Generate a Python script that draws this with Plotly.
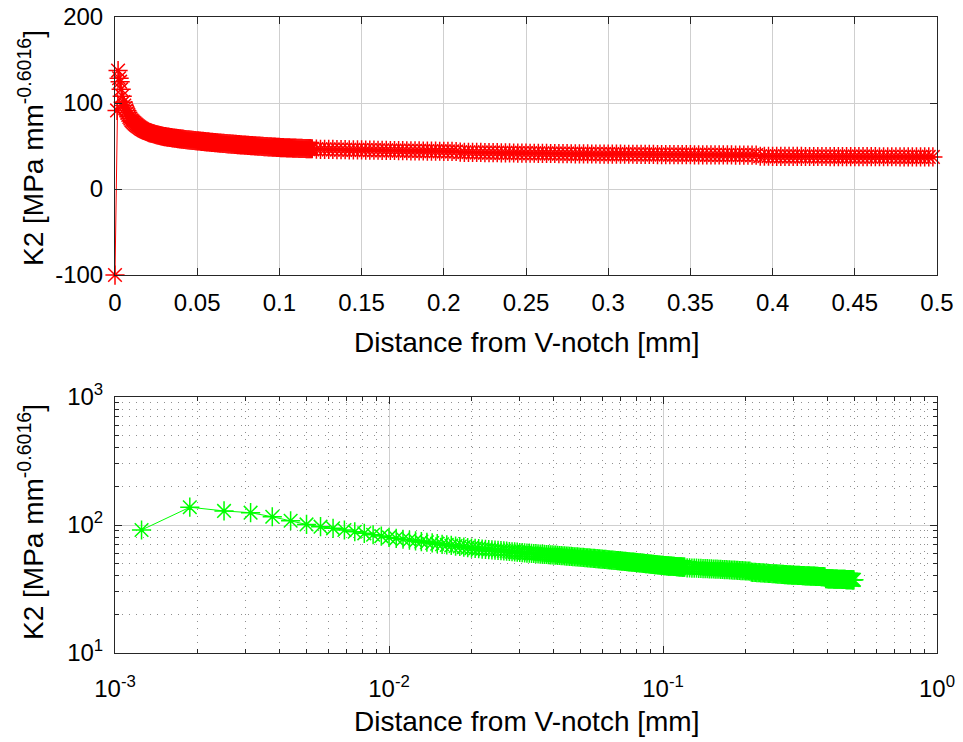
import plotly.graph_objects as go

# Node spacing along the path from the V-notch tip [mm]
FINE_STEP = 0.000625    # refined mesh up to 0.12 mm
COARSE_STEP = 0.0025    # coarser mesh from 0.1225 mm to 0.5 mm

# K2 at the notch tip (x = 0) and at fine nodes k = 2 ... 192 (x = k * FINE_STEP)
k2_tip = -100.0
k2_fine = [
    91.4, 137.7, 128.8, 124.8, 116.0, 108.0, 101.0, 97.0, 94.2, 91.4,
    88.6, 86.1, 83.9, 81.9, 80.0, 78.7, 77.4, 76.3, 75.2, 74.2,
    73.3, 72.4, 71.5, 70.7, 69.9, 69.2, 68.5, 67.9, 67.2, 66.6, 66.0,
    65.6, 65.3, 64.9, 64.6, 64.3, 64.0, 63.6, 63.3, 63.0, 62.7, 62.4, 62.1, 61.8, 61.6, 61.3, 61.0,
    60.8, 60.6, 60.4, 60.3, 60.1, 59.9, 59.7, 59.5, 59.3, 59.2, 59.0, 58.8, 58.7, 58.5, 58.4, 58.2,
    58.1, 57.9, 57.8, 57.6, 57.5, 57.3, 57.2, 57.1, 56.9, 56.8, 56.6, 56.5, 56.4, 56.3, 56.1, 56.0,
    55.9, 55.8, 55.6, 55.5, 55.4, 55.3, 55.1, 55.0,
    54.9, 54.8, 54.7, 54.6, 54.4, 54.3, 54.2, 54.1,
    54.0, 53.9, 53.8, 53.6, 53.5, 53.4, 53.3, 53.2,
    53.1, 53.0, 52.9, 52.8, 52.7, 52.6, 52.5, 52.4,
    52.3, 52.2, 52.1, 52.0, 51.9, 51.8, 51.7, 51.6,
    51.5, 51.4, 51.3, 51.2, 51.2, 51.1, 51.0, 50.9,
    50.8, 50.7, 50.6, 50.5, 50.5, 50.4, 50.3, 50.2,
    50.1, 50.0, 49.9, 49.8, 49.8, 49.7, 49.6, 49.5,
    49.4, 49.3, 49.3, 49.2, 49.1, 49.0, 49.0, 48.9,
    48.8, 48.7, 48.7, 48.6, 48.5, 48.5, 48.4, 48.3,
    48.2, 48.2, 48.1, 48.1, 48.0, 48.0, 47.9, 47.9,
    47.8, 47.8, 47.7, 47.7, 47.6, 47.6, 47.5, 47.5,
    47.4, 47.4, 47.3, 47.3, 47.2, 47.2, 47.1, 47.1,
    47.1, 47.0, 47.0, 46.9, 46.9, 46.9, 46.8, 46.8,
]

# K2 at coarse nodes n = 0 ... 151 (x = 0.1225 + n * COARSE_STEP)
k2_coarse = [
    46.3, 46.2, 46.1, 46.0, 46.0, 45.9, 45.8, 45.7, 45.6, 45.6,
    45.5, 45.4, 45.3, 45.2, 45.2, 45.1, 45.0, 44.9, 44.8, 44.8,
    44.7, 44.6, 44.5, 44.4, 44.4, 44.3, 44.2, 44.1, 44.0, 44.0,
    43.9, 43.8, 43.7, 43.7, 43.6,
    42.8, 42.7, 42.7, 42.6, 42.5, 42.5, 42.4, 42.3, 42.3, 42.2, 42.1, 42.0, 42.0, 41.9, 41.8, 41.8, 41.7,
    41.6, 41.6, 41.5, 41.5, 41.4, 41.3, 41.3, 41.2, 41.1, 41.1, 41.0, 40.9, 40.9, 40.8, 40.8, 40.7,
    40.7, 40.6, 40.6, 40.6, 40.5, 40.5, 40.5, 40.4, 40.4, 40.4, 40.3, 40.3, 40.2, 40.2, 40.2, 40.1,
    40.1, 40.1, 40.0, 40.0, 40.0, 39.9, 39.9, 39.9, 39.8, 39.8, 39.8, 39.7,
    39.7, 39.7, 39.7, 39.6, 39.6, 39.6, 39.5, 39.5, 39.5, 39.5, 39.4, 39.4,
    38.1, 38.1, 38.1, 38.0, 38.0, 38.0, 38.0, 37.9, 37.9, 37.9, 37.9,
    37.8, 37.8, 37.8, 37.8, 37.8, 37.8, 37.7, 37.7, 37.7, 37.7, 37.7, 37.7,
    37.6, 37.6, 37.6, 37.6, 37.6, 37.6, 37.5, 37.5, 37.5, 37.5, 37.5,
    37.4, 37.4, 37.4, 37.4, 37.4, 37.3, 37.3, 37.3, 37.3,
]

lin_xticks = [0, 0.05, 0.1, 0.15, 0.2, 0.25, 0.3, 0.35, 0.4, 0.45, 0.5]
lin_xticktext = ["0", "0.05", "0.1", "0.15", "0.2", "0.25", "0.3", "0.35", "0.4", "0.45", "0.5"]
lin_yticks = [-100, 0, 100, 200]
lin_yticktext = ["-100", "0", "100", "200"]
log_xticks = [1e-3, 1e-2, 1e-1, 1e0]
log_xticktext = ["10<sup>-3</sup>", "10<sup>-2</sup>", "10<sup>-1</sup>", "10<sup>0</sup>"]
log_xminor = [m * d for d in (1e-3, 1e-2, 1e-1) for m in range(2, 10)]
log_yticks = [1e1, 1e2, 1e3]
log_yticktext = ["10<sup>1</sup>", "10<sup>2</sup>", "10<sup>3</sup>"]
log_yminor = [m * d for d in (1e1, 1e2) for m in range(2, 10)]

x_label = "Distance from V-notch [mm]"
y_label = "K2 [MPa mm<sup>-0.6016</sup>]"

# assemble the node coordinates
distance = [0.0] + [k * FINE_STEP for k in range(2, 2 + len(k2_fine))] \
    + [0.1225 + n * COARSE_STEP for n in range(len(k2_coarse))]
k2 = [k2_tip] + k2_fine + k2_coarse

FONT = "Liberation Sans, Arial, Helvetica, sans-serif"
GRID = "#cfcfcf"
MINOR_GRID = "#8f8f8f"
TICK_SIZE = 24
TITLE_SIZE = 28

fig = go.Figure()

# linear view: every node including the tip value
fig.add_trace(go.Scatter(
    x=distance, y=k2, mode="lines+markers",
    line=dict(color="#ff0000", width=1),
    marker=dict(symbol="asterisk-open", size=16, color="#ff0000",
                line=dict(color="#ff0000", width=1.5)),
    cliponaxis=False, showlegend=False, xaxis="x", yaxis="y",
))

# log-log view: the tip node (x = 0) has no logarithm
fig.add_trace(go.Scatter(
    x=distance[1:], y=k2[1:], mode="lines+markers",
    line=dict(color="#00ff00", width=1),
    marker=dict(symbol="asterisk-open", size=16, color="#00ff00",
                line=dict(color="#00ff00", width=1.5)),
    cliponaxis=True, showlegend=False, xaxis="x2", yaxis="y2",
))

axis_common = dict(
    showline=True, linecolor="#262626", linewidth=1, mirror="ticks",
    ticks="inside", ticklen=7, tickcolor="#262626",
    showgrid=True, gridcolor=GRID, gridwidth=1, zeroline=False,
    tickfont=dict(family=FONT, size=TICK_SIZE, color="#000000"),
    ticklabelstandoff=6, automargin=False,
)
minor_common = dict(ticks="inside", ticklen=4, tickcolor="#262626",
                    showgrid=True, gridcolor=MINOR_GRID, griddash="1px,6px", gridwidth=1)

# plot area spans pixels x 115..937 and y 17..653
def px_x(px):
    return (px - 115) / 822.0


def px_y(py):
    return (653 - py) / 636.0


title_font = dict(family=FONT, size=TITLE_SIZE, color="#000000")
annotations = [
    dict(text=x_label, x=px_x(526), y=px_y(342), xref="paper", yref="paper",
         xanchor="center", yanchor="middle", showarrow=False, font=title_font),
    dict(text=x_label, x=px_x(526), y=px_y(721), xref="paper", yref="paper",
         xanchor="center", yanchor="middle", showarrow=False, font=title_font),
    dict(text=y_label, x=px_x(31), y=px_y(148), xref="paper", yref="paper",
         xanchor="center", yanchor="middle", textangle=-90, showarrow=False, font=title_font),
    dict(text=y_label, x=px_x(31), y=px_y(522), xref="paper", yref="paper",
         xanchor="center", yanchor="middle", textangle=-90, showarrow=False, font=title_font),
]

fig.update_layout(
    width=963, height=742,
    margin=dict(l=115, r=26, t=17, b=89, autoexpand=False),
    paper_bgcolor="white", plot_bgcolor="white",
    font=dict(family=FONT, color="#000000"),
    xaxis=dict(axis_common, domain=[0, 1], anchor="y", range=[0, 0.5],
               tickvals=lin_xticks, ticktext=lin_xticktext),
    yaxis=dict(axis_common, domain=[0.5943, 1], anchor="x", range=[-100, 200],
               tickvals=lin_yticks, ticktext=lin_yticktext),
    xaxis2=dict(axis_common, domain=[0, 1], anchor="y2", type="log", range=[-3, 0],
                tickvals=log_xticks, ticktext=log_xticktext, ticklabelstandoff=14,
                minor=dict(minor_common, tickvals=log_xminor)),
    yaxis2=dict(axis_common, domain=[0, 0.4025], anchor="x2", type="log", range=[1, 3],
                tickvals=log_yticks, ticktext=log_yticktext,
                minor=dict(minor_common, tickvals=log_yminor)),
    annotations=annotations,
)

fig.write_html("out.html")
